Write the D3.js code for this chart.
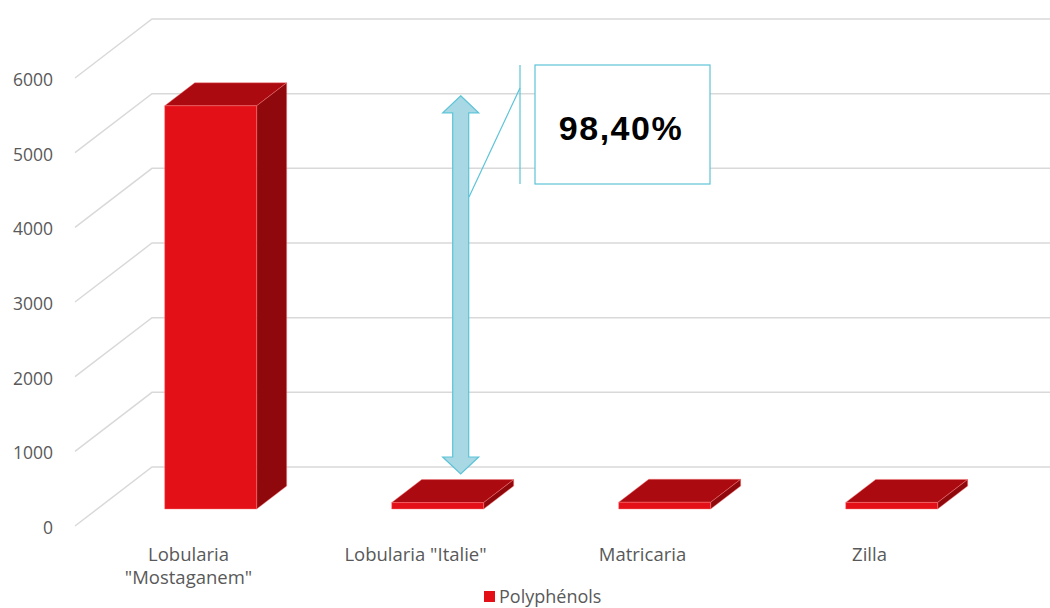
<!DOCTYPE html>
<html>
<head>
<meta charset="utf-8">
<script src="https://cdn.jsdelivr.net/npm/d3@7"></script>
<style>
  html, body { margin: 0; padding: 0; background: #ffffff; }
  svg { display: block; }
</style>
</head>
<body>
<svg id="chart" width="1050" height="608"></svg>
<script>
// Polyphenol content per plant extract
const categories = ['Lobularia\n"Mostaganem"', 'Lobularia "Italie"', 'Matricaria', 'Zilla'];
const polyphenols = [5400, 86, 90, 88];
const tickValues = [0, 1000, 2000, 3000, 4000, 5000, 6000];
const seriesName = ["Polyphénols"];
const reductionLabel = ["98,40%"];
const arrowSpan = [5380, 315];

const svg = d3.select("#chart");
const uiFont = "'Open Sans', Lato, sans-serif";

// Oblique 3D projection: back wall plane + depth offset
const backLeft = 152, backRight = 1060;
const depthDX = -77, depthDY = 59;   // full depth of the floor
const dFront = 0.712, dBack = 0.322; // bar depth range (0 = back wall, 1 = front edge)

const y = d3.scaleLinear().domain([0, 6000]).range([467, 19]);
const x = d3.scaleBand().domain(categories).range([backLeft, backRight])
  .paddingInner(0.595).paddingOuter(0.2975);

const P = (xb, v, d) => [xb + depthDX * d, y(v) + depthDY * d];

// gridlines: side wall diagonal + back wall horizontal
const grid = svg.append("g").attr("stroke", "#d9d9d9").attr("stroke-width", 1.5).attr("fill", "none");
tickValues.forEach(v => {
  const f = P(backLeft, v, 1), b = P(backLeft, v, 0);
  grid.append("path").attr("d", `M${f[0]},${f[1]}L${b[0]},${b[1]}L1050,${b[1]}`);
});

// y tick labels at the front edge
svg.append("g").selectAll("text").data(tickValues).join("text")
  .attr("x", 53).attr("y", v => P(backLeft, v, 1)[1] + 8)
  .attr("text-anchor", "end")
  .attr("font-family", uiFont)
  .attr("font-size", 17.5).attr("fill", "#595959")
  .text(v => v);

// 3D bars
const colFront = "#e31018", colTop = "#aa0a10", colSide = "#8e080c", edge = "rgba(255,120,120,0.55)";
const bars = svg.append("g");
categories.forEach((c, i) => {
  const v = polyphenols[i];
  const x0 = x(c), x1 = x(c) + x.bandwidth();
  const poly = pts => pts.map(p => p.join(",")).join(" ");
  const fBL = P(x0, 0, dFront), fBR = P(x1, 0, dFront), fTL = P(x0, v, dFront), fTR = P(x1, v, dFront);
  const bBR = P(x1, 0, dBack), bTL = P(x0, v, dBack), bTR = P(x1, v, dBack);
  const g = bars.append("g").attr("stroke", edge).attr("stroke-width", 0.8).attr("stroke-linejoin", "round");
  g.append("polygon").attr("points", poly([fTL, fTR, bTR, bTL])).attr("fill", colTop);
  g.append("polygon").attr("points", poly([fTR, bTR, bBR, fBR])).attr("fill", colSide);
  g.append("polygon").attr("points", poly([fTL, fTR, fBR, fBL])).attr("fill", colFront);
});

// category labels centered on the front floor edge
const labels = svg.append("g")
  .attr("font-family", uiFont)
  .attr("font-size", 18.5).attr("fill", "#595959").attr("text-anchor", "middle");
categories.forEach(c => {
  const cx = P(x(c) + x.bandwidth() / 2, 0, 1)[0];
  const t = labels.append("text").attr("x", cx).attr("y", 561);
  c.split("\n").forEach((line, k) => {
    t.append("tspan").attr("x", cx).attr("dy", k === 0 ? 0 : 23).text(line);
  });
});

// double-headed arrow showing the drop between the first two extracts
const dMid = (dFront + dBack) / 2;
const ax = P(x(categories[1]) + x.bandwidth() / 2, 0, dMid)[0] + 8;
const yTop = P(0, arrowSpan[0], dMid)[1], yBot = P(0, arrowSpan[1], dMid)[1];
const sw = 8, hw = 18, hh = 17;
const arrowPts = [
  [ax, yTop], [ax + hw, yTop + hh], [ax + sw, yTop + hh], [ax + sw, yBot - hh], [ax + hw, yBot - hh],
  [ax, yBot], [ax - hw, yBot - hh], [ax - sw, yBot - hh], [ax - sw, yTop + hh], [ax - hw, yTop + hh]
];
svg.append("polygon").attr("points", arrowPts.map(p => p.join(",")).join(" "))
  .attr("fill", "#a8d8e4").attr("stroke", "#5cc3d8").attr("stroke-width", 1.2);

// callout with the reduction percentage
const callout = svg.append("g").attr("stroke", "#5cc3d8").attr("stroke-width", 1.2).attr("fill", "none");
callout.append("line").attr("x1", 520).attr("y1", 65).attr("x2", 520).attr("y2", 184);
callout.append("line").attr("x1", 520).attr("y1", 88).attr("x2", 469).attr("y2", 197);
callout.append("rect").attr("x", 535).attr("y", 65).attr("width", 175).attr("height", 119).attr("fill", "#ffffff");
svg.append("text").attr("x", 621).attr("y", 140).attr("text-anchor", "middle")
  .attr("font-family", "'Liberation Sans', Arial, sans-serif").attr("font-weight", "bold")
  .attr("font-size", 34).attr("letter-spacing", 1.5).attr("fill", "#000000")
  .text(reductionLabel[0]);

// legend
const legend = svg.append("g");
legend.append("rect").attr("x", 484).attr("y", 591).attr("width", 11).attr("height", 11).attr("fill", colFront);
legend.append("text").attr("x", 499).attr("y", 603)
  .attr("font-family", uiFont).attr("font-size", 18).attr("fill", "#595959")
  .text(seriesName[0]);
</script>
</body>
</html>
